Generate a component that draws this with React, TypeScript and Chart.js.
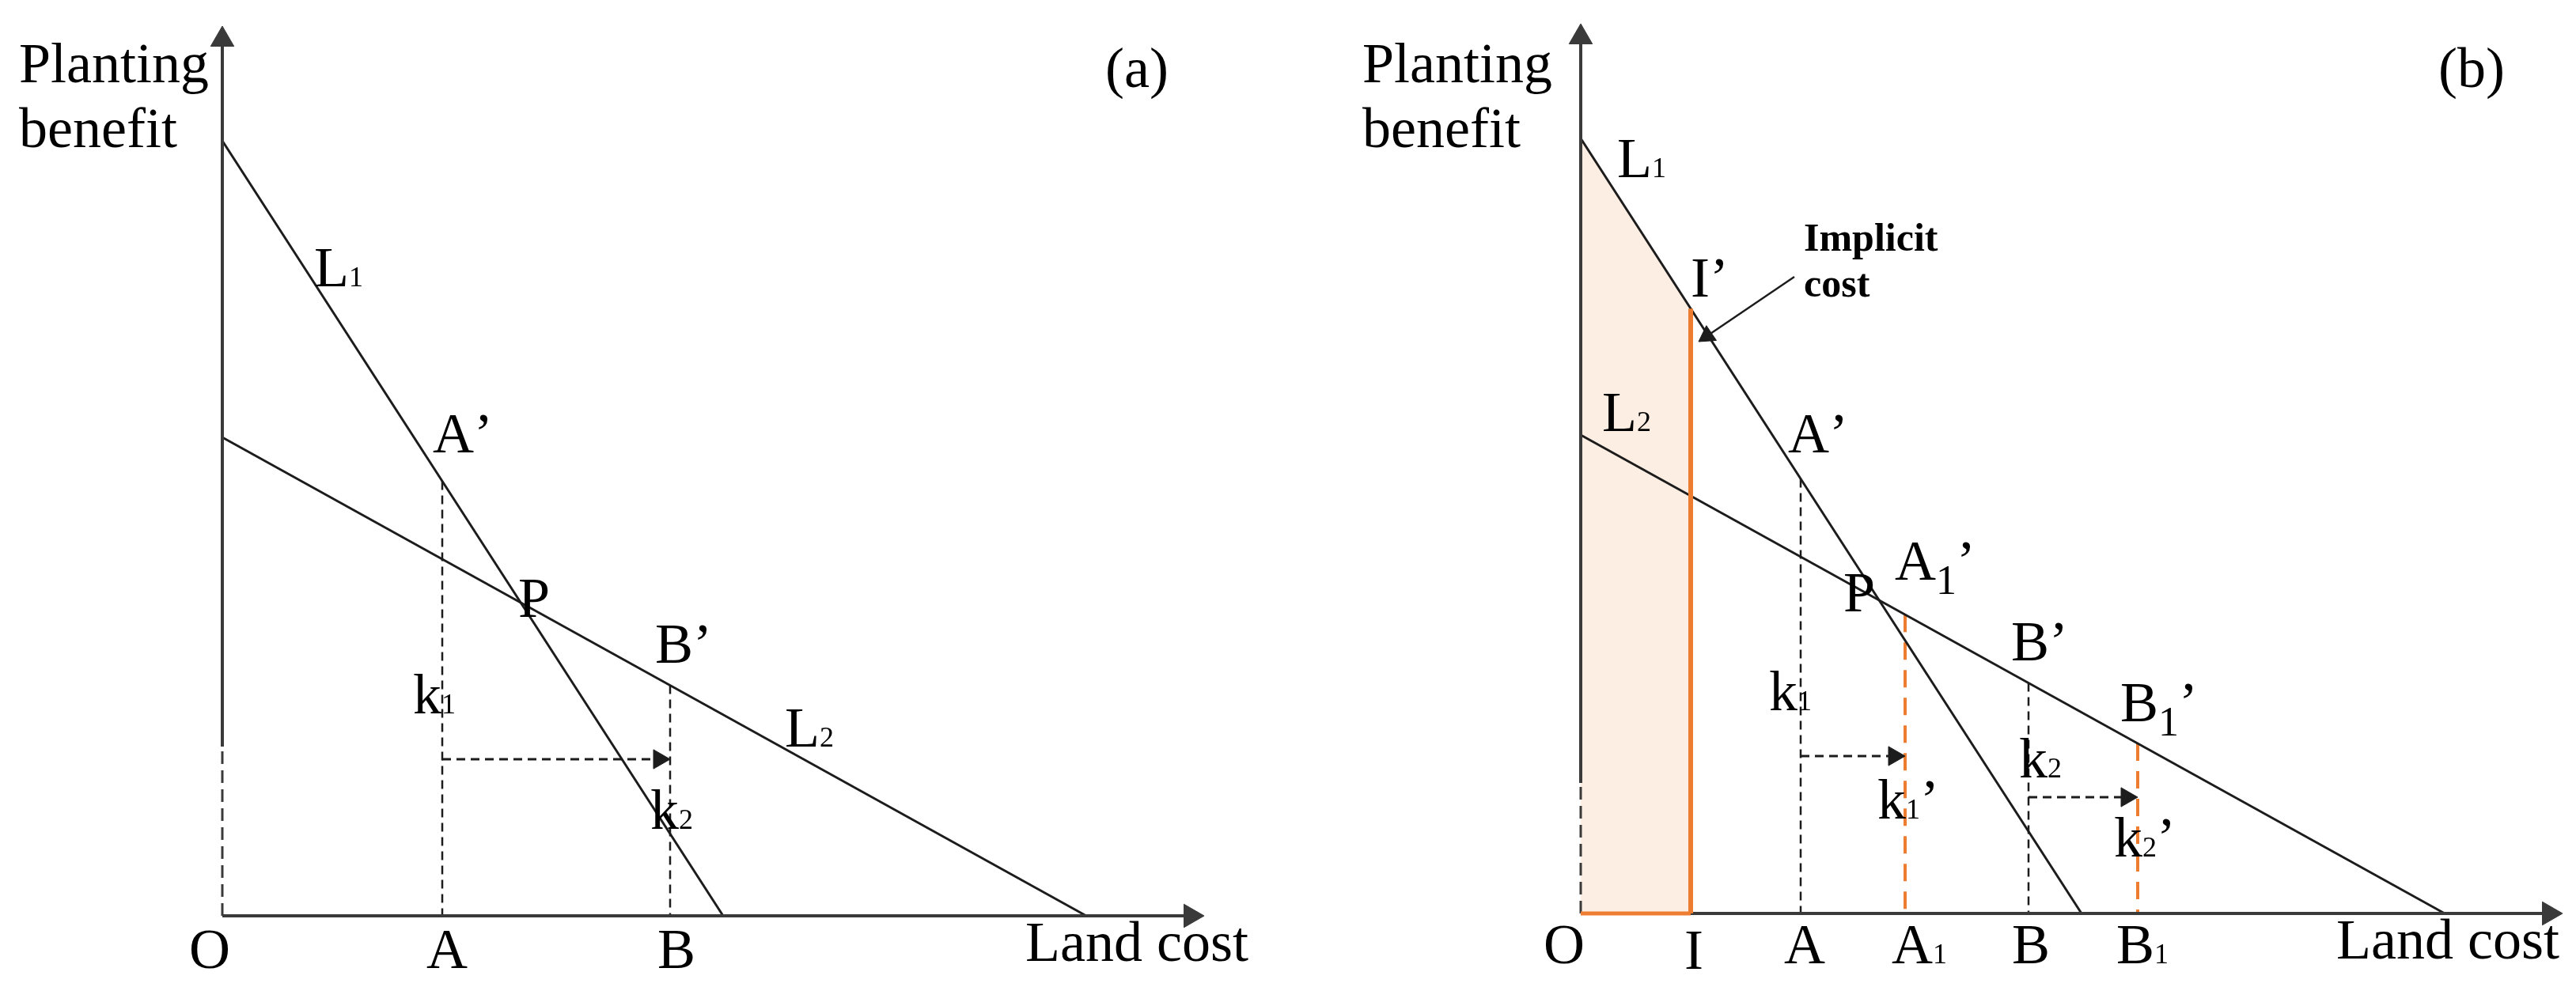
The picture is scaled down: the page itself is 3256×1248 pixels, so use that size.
import React, { useEffect, useRef } from 'react';
import { Chart, registerables } from 'chart.js';

Chart.register(...registerables);

type Pt = { x: number; y: number };
type Label = {
  t: string;
  x: number;
  y: number;
  sub?: string;
  low?: boolean;
  prime?: boolean;
  center?: boolean;
  note?: boolean;
};

// ---- diagram geometry (data units, origin O at (0,0)) ----
const L1_LINE: Pt[] = [{ x: 0, y: 980 }, { x: 633, y: 0 }];
const L2_LINE: Pt[] = [{ x: 0, y: 605 }, { x: 1092, y: 0 }];
const X_AXIS_END = 1241;
const Y_AXIS_END = 1125;
const X_A = 278;
const X_B = 566;
const X_I = 139;
const X_A1 = 410;
const X_B1 = 704;
const Y_AXIS_DASH_A = 214;
const Y_AXIS_DASH_B = 165;
const K_ARROW_A = 198;
const K1_ARROW_B = 199;
const K2_ARROW_B = 147;
const IMPLICIT_ARROW: Pt[] = [{ x: 270, y: 805 }, { x: 149, y: 723 }];

// ---- label anchors ----
const LABELS_A: Label[] = [
  { t: 'Planting', x: -257, y: 1054 },
  { t: 'benefit', x: -257, y: 972 },
  { t: '(a)', x: 1116, y: 1048 },
  { t: 'L', sub: '1', x: 116, y: 796 },
  { t: 'A', prime: true, x: 266, y: 586 },
  { t: 'P', x: 374, y: 378 },
  { t: 'B', prime: true, x: 547, y: 320 },
  { t: 'k', sub: '1', x: 241, y: 256 },
  { t: 'k', sub: '2', x: 541, y: 110 },
  { t: 'L', sub: '2', x: 711, y: 214 },
  { t: 'O', center: true, x: -16, y: -66 },
  { t: 'A', center: true, x: 284, y: -66 },
  { t: 'B', center: true, x: 574, y: -66 },
  { t: 'Land cost', x: 1015, y: -57 },
];

const LABELS_B: Label[] = [
  { t: 'Planting', x: -276, y: 1051 },
  { t: 'benefit', x: -276, y: 969 },
  { t: '(b)', x: 1084, y: 1045 },
  { t: 'L', sub: '1', x: 46, y: 931 },
  { t: 'I', prime: true, x: 139, y: 780 },
  { t: 'Implicit', note: true, x: 282, y: 838 },
  { t: 'cost', note: true, x: 282, y: 780 },
  { t: 'L', sub: '2', x: 27, y: 610 },
  { t: 'A', prime: true, x: 262, y: 583 },
  { t: 'A', sub: '1', low: true, prime: true, x: 397, y: 422 },
  { t: 'P', x: 332, y: 382 },
  { t: 'B', prime: true, x: 544, y: 320 },
  { t: 'B', sub: '1', low: true, prime: true, x: 682, y: 243 },
  { t: 'k', sub: '1', x: 238, y: 257 },
  { t: 'k', sub: '1', prime: true, x: 375, y: 120 },
  { t: 'k', sub: '2', x: 554, y: 172 },
  { t: 'k', sub: '2', prime: true, x: 674, y: 72 },
  { t: 'O', center: true, x: -21, y: -63 },
  { t: 'I', center: true, x: 143, y: -70 },
  { t: 'A', center: true, x: 283, y: -63 },
  { t: 'A', sub: '1', x: 393, y: -63 },
  { t: 'B', center: true, x: 569, y: -63 },
  { t: 'B', sub: '1', x: 677, y: -63 },
  { t: 'Land cost', x: 955, y: -57 },
];

// ---- view frames (1 data unit = 1 px) ----
const FRAME_A = { xMin: -281, xMax: 1347, yMin: -90, yMax: 1158 };
const FRAME_B = { xMin: -370, xMax: 1258, yMin: -93, yMax: 1155 };

// ---- styles ----
const SERIF = '"Liberation Serif", "Times New Roman", serif';
const TEXT_PX = 72;
const SUB_PX = 36;
const LOW_SUB_PX = 52;
const LOW_DROP = 18;
const NOTE_PX = 50;
const INK = '#1c1c1c';
const AXIS = '#3a3a3a';
const ORANGE = '#ED7D31';
const PEACH = '#FDEEE3';
const GUIDE_DASH = [11, 7];
const ORANGE_DASH = [22, 13];

function yOn(line: Pt[], x: number): number {
  const [p, q] = line;
  return p.y + ((q.y - p.y) * (x - p.x)) / (q.x - p.x);
}

function seg(pts: Pt[], color: string, width: number, dash: number[] = [], order = 8): any {
  return {
    data: pts,
    showLine: true,
    borderColor: color,
    borderWidth: width,
    borderDash: dash,
    borderCapStyle: 'butt',
    pointRadius: 0,
    pointHoverRadius: 0,
    fill: false,
    tension: 0,
    order,
  };
}

function arrow(from: Pt, to: Pt, r: number, color: string, width: number, dash: number[] = [], order = 6): any[] {
  const dx = to.x - from.x;
  const dy = to.y - from.y;
  const len = Math.hypot(dx, dy);
  const ux = dx / len;
  const uy = dy / len;
  const c = { x: to.x - ux * r, y: to.y - uy * r };
  const rot = (Math.atan2(ux, uy) * 180) / Math.PI;
  return [
    seg([from, c], color, width, dash, order),
    {
      data: [c],
      showLine: false,
      pointStyle: 'triangle',
      pointRadius: r,
      pointHoverRadius: r,
      pointRotation: rot,
      pointBackgroundColor: color,
      pointBorderColor: color,
      pointBorderWidth: 1,
      order: order - 1,
    },
  ];
}

function datasetsA(): any[] {
  return [
    seg([{ x: 0, y: 0 }, { x: 0, y: Y_AXIS_DASH_A }], AXIS, 3, [16, 8], 7),
    ...arrow({ x: 0, y: Y_AXIS_DASH_A }, { x: 0, y: Y_AXIS_END }, 17, AXIS, 4, [], 7),
    ...arrow({ x: 0, y: 0 }, { x: X_AXIS_END, y: 0 }, 17, AXIS, 4, [], 7),
    seg(L1_LINE, INK, 3),
    seg(L2_LINE, INK, 3),
    seg([{ x: X_A, y: yOn(L1_LINE, X_A) }, { x: X_A, y: 0 }], INK, 2.5, GUIDE_DASH, 9),
    seg([{ x: X_B, y: yOn(L2_LINE, X_B) }, { x: X_B, y: 0 }], INK, 2.5, GUIDE_DASH, 9),
    ...arrow({ x: X_A, y: K_ARROW_A }, { x: X_B, y: K_ARROW_A }, 14, INK, 3, GUIDE_DASH, 5),
  ];
}

function datasetsB(): any[] {
  return [
    {
      data: [{ x: 0, y: yOn(L1_LINE, 0) }, { x: X_I, y: yOn(L1_LINE, X_I) }],
      showLine: true,
      fill: 'origin',
      backgroundColor: PEACH,
      borderColor: 'rgba(0,0,0,0)',
      borderWidth: 0,
      pointRadius: 0,
      order: 30,
    },
    seg([{ x: 0, y: 0 }, { x: 0, y: Y_AXIS_DASH_B }], AXIS, 3, [16, 8], 7),
    ...arrow({ x: 0, y: Y_AXIS_DASH_B }, { x: 0, y: Y_AXIS_END }, 17, AXIS, 4, [], 7),
    ...arrow({ x: 0, y: 0 }, { x: X_AXIS_END, y: 0 }, 17, AXIS, 4, [], 7),
    seg([{ x: 0, y: 0 }, { x: X_I, y: 0 }], ORANGE, 5, [], 3),
    seg([{ x: X_I, y: 0 }, { x: X_I, y: yOn(L1_LINE, X_I) }], ORANGE, 6, [], 3),
    seg(L1_LINE, INK, 3),
    seg(L2_LINE, INK, 3),
    seg([{ x: X_A, y: yOn(L1_LINE, X_A) }, { x: X_A, y: 0 }], INK, 2.5, GUIDE_DASH, 9),
    seg([{ x: X_B, y: yOn(L2_LINE, X_B) }, { x: X_B, y: 0 }], INK, 2.5, GUIDE_DASH, 9),
    seg([{ x: X_A1, y: yOn(L2_LINE, X_A1) }, { x: X_A1, y: 0 }], ORANGE, 4, ORANGE_DASH, 9),
    seg([{ x: X_B1, y: yOn(L2_LINE, X_B1) }, { x: X_B1, y: 0 }], ORANGE, 4, ORANGE_DASH, 9),
    ...arrow({ x: X_A, y: K1_ARROW_B }, { x: X_A1, y: K1_ARROW_B }, 14, INK, 3, GUIDE_DASH, 5),
    ...arrow({ x: X_B, y: K2_ARROW_B }, { x: X_B1, y: K2_ARROW_B }, 14, INK, 3, GUIDE_DASH, 5),
    ...arrow(IMPLICIT_ARROW[0], IMPLICIT_ARROW[1], 13, INK, 2.5, [], 5),
  ];
}

function labelPlugin(labels: Label[]): any {
  return {
    id: 'richLabels',
    afterDatasetsDraw(chart: any) {
      const ctx: CanvasRenderingContext2D = chart.ctx;
      const sx = chart.scales.x;
      const sy = chart.scales.y;
      ctx.save();
      ctx.fillStyle = '#000';
      ctx.textBaseline = 'alphabetic';
      ctx.textAlign = 'left';
      for (const l of labels) {
        const mainFont = l.note ? `bold ${NOTE_PX}px ${SERIF}` : `${TEXT_PX}px ${SERIF}`;
        const subFont = `${l.low ? LOW_SUB_PX : SUB_PX}px ${SERIF}`;
        ctx.font = mainFont;
        const w0 = ctx.measureText(l.t).width;
        const w2 = l.prime ? ctx.measureText('\u2019').width : 0;
        ctx.font = subFont;
        const w1 = l.sub ? ctx.measureText(l.sub).width : 0;
        const total = w0 + w1 + w2;
        let px = sx.getPixelForValue(l.x) - (l.center ? total / 2 : 0);
        const py = sy.getPixelForValue(l.y);
        ctx.font = mainFont;
        ctx.fillText(l.t, px, py);
        px += w0;
        if (l.sub) {
          ctx.font = subFont;
          ctx.fillText(l.sub, px, py + (l.low ? LOW_DROP : 0));
          px += w1;
        }
        if (l.prime) {
          ctx.font = mainFont;
          ctx.fillText('\u2019', px, py);
        }
      }
      ctx.restore();
    },
  };
}

function makeConfig(frame: typeof FRAME_A, datasets: any[], labels: Label[]): any {
  return {
    type: 'line',
    data: { datasets },
    options: {
      animation: false,
      responsive: false,
      devicePixelRatio: 1,
      events: [],
      layout: { padding: 0, autoPadding: false },
      plugins: {
        legend: { display: false },
        tooltip: { enabled: false },
        title: { display: false },
      },
      scales: {
        x: { type: 'linear', min: frame.xMin, max: frame.xMax, display: false },
        y: { type: 'linear', min: frame.yMin, max: frame.yMax, display: false },
      },
    },
    plugins: [labelPlugin(labels)],
  };
}

export default function App() {
  const refA = useRef<HTMLCanvasElement>(null);
  const refB = useRef<HTMLCanvasElement>(null);

  useEffect(() => {
    const a = new Chart(refA.current as HTMLCanvasElement, makeConfig(FRAME_A, datasetsA(), LABELS_A));
    const b = new Chart(refB.current as HTMLCanvasElement, makeConfig(FRAME_B, datasetsB(), LABELS_B));
    return () => {
      a.destroy();
      b.destroy();
    };
  }, []);

  return (
    <div
      style={{
        position: 'fixed',
        left: 0,
        top: 0,
        width: 3256,
        height: 1248,
        background: '#fff',
        display: 'flex',
      }}
    >
      <canvas ref={refA} width={1628} height={1248} style={{ width: 1628, height: 1248, display: 'block' }} />
      <canvas ref={refB} width={1628} height={1248} style={{ width: 1628, height: 1248, display: 'block' }} />
    </div>
  );
}
